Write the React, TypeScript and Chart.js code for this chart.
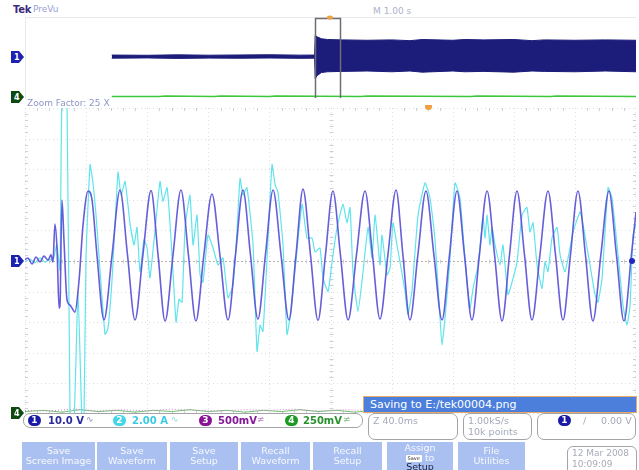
import React, { useEffect, useRef } from 'react';
import { Chart, registerables } from 'chart.js';

Chart.register(...registerables);

// ---------- Zoom window (Z 40.0 ms/div) ----------
const gridTimesMs = [0, 40, 80, 120, 160, 200, 240, 280, 320, 360, 400];
const gridDivs = [-50, -40, -30, -20, -10, 0, 10, 20, 30, 40, 50];

// Channel 1 (10.0 V/div): [time ms, volts]
const ch1Samples: [number, number][] = [
  [0, 0.5], [2.0, 1.0], [4.6, -1.0], [7.2, 1.3], [9.8, -0.3], [12.4, 1.6], [15.1, 0.3], [17.0, 2.0], [18.3, -0.3],
  [19.6, 12.1], [21.0, 3.6], [22.3, -15.4], [22.9, -14.4], [24.2, 19.9], [25.5, 6.9], [27.5, -12.7], [29.5, -14.4],
  [32.7, -16.7], [35.4, -6.2], [38.0, 11.8], [41.3, 22.9], [43.9, 19.9], [47.1, 2.0], [51.7, -19.3],
  [57.0, 2], [62.2, 23.2], [67.1, 2], [72.0, -19.3],
  [77.2, 2], [82.5, 23.0], [87.1, 2], [91.7, -19.6],
  [96.9, 2], [102.1, 23.2], [107.0, 2], [111.9, -19.6],
  [117.1, 2], [122.4, 21.9], [127.6, 2], [132.9, -19.3],
  [137.8, 2], [142.7, 23.2], [147.6, 2], [152.5, -19.0],
  [157.4, 2], [162.4, 23.2], [167.6, 2], [172.8, -19.3],
  [177.4, 2], [182.0, 23.5], [186.9, 2], [191.8, -19.4],
  [196.7, 2], [201.6, 22.9], [206.5, 2], [211.5, -19.3],
  [217.0, 2], [222.6, 22.9], [227.5, 2], [232.4, -19.0],
  [237.6, 2], [242.9, 23.2], [247.4, 2], [252.0, -19.3],
  [257.2, 2], [262.5, 22.9], [267.7, 2], [273.0, -19.3],
  [277.9, 2], [282.8, 22.9], [287.7, 2], [292.6, -19.3],
  [297.5, 2], [302.5, 22.9], [307.4, 2], [312.3, -19.6],
  [317.2, 2], [322.1, 22.9], [327.0, 2], [331.9, -19.3],
  [337.1, 2], [342.4, 22.9], [347.3, 2], [352.2, -19.3],
  [357.1, 2], [362.0, 22.9], [366.9, 2], [371.8, -19.6],
  [377.0, 2], [382.3, 22.9], [387.2, 2], [392.1, -19.6],
  [397.0, 2], [400, 16],
];

// Channel 2 (2.00 A/div): [time ms, amps]
const ch2Samples: [number, number][] = [
  [0, -0.07], [3.3, 0.13], [6.5, -0.13], [9.8, 0.2], [13.1, -0.07], [16.4, 0.13], [18.3, 0], [20.8, 1.05], [22.9, -0.6],
  [24.2, 10.5], [27.5, 10.5], [29.5, -10.5], [32.1, -10.5], [34.7, -2.0], [37.3, -10.5], [38.6, -10.5], [39.9, 0.07],
  [42.6, 6.3], [44.5, 5.1], [46.5, 3.0], [49.1, -0.6], [52.4, -4.8], [54.3, -4.4], [57.0, -1.2], [60.9, 5.8], [62.9, 4.3],
  [65.5, 5.2], [68.7, 2.5], [71.4, 1.05], [73.3, 2.2], [75.3, -0.7], [77.9, 1.4], [79.9, 0.85], [81.8, -1.1], [85.1, 2.0],
  [88.4, 5.2], [90.3, 3.9], [93.0, 4.8], [94.9, 2.5], [96.9, -0.7], [98.9, -4.0], [100.8, -2.5], [102.8, -2.7], [104.8, 2.2],
  [108.0, 4.3], [110.0, 1.05], [112.6, 3.0], [114.6, -0.9], [116.5, -1.4], [119.8, 1.7], [123.1, 0.85], [126.4, -0.26],
  [129.6, 0.2], [132.9, -2.4], [136.2, -1.6], [138.8, 2.0], [140.8, 5.4], [142.7, 4.3], [145.3, 4.8], [149.3, 1.05],
  [151.9, -5.9], [153.9, -4.2], [155.8, -4.6], [158.4, 0.07], [161.7, 6.3], [163.7, 5.0], [165.6, 4.5], [168.9, 1.05],
  [171.5, -4.8], [173.5, -3.7], [176.8, -0.6], [181.4, 3.7], [184.6, 1.5], [187.9, 1.5], [189.9, 0.6], [193.1, 0.85],
  [195.1, -1.1], [198.4, -2.0], [201.0, -0.07], [204.3, 2.2], [208.2, 3.7], [210.8, 2.5], [212.8, 3.5], [214.7, -0.7],
  [218.0, -3.3], [221.3, -0.7], [224.6, 2.2], [227.2, 0.2], [229.2, 3.0], [232.4, -0.26], [233.7, 1.7], [237.0, -0.9],
  [239.0, -0.46], [240.9, 2.5], [243.5, 1.05], [246.2, -0.46], [248.8, -2.0], [250.7, -3.5], [253.4, -1.9], [257.3, 3.0],
  [261.9, 5.1], [265.2, 4.1], [268.4, 1.4], [271.7, -3.7], [273.0, -5.5], [275.0, -3.7], [278.2, 0.07], [281.5, 5.1],
  [284.8, 4.1], [288.1, 0.07], [291.3, -3.1], [293.3, -1.8], [296.6, -0.26], [299.9, 2.8], [301.2, 1.5], [302.5, 3.0],
  [304.4, 1.05], [305.7, 2.2], [307.7, 1.05], [311.0, -0.26], [312.9, 1.05], [316.2, -2.2], [318.8, -1.4], [322.1, -0.07],
  [325.4, 3.0], [328.6, 3.5], [330.6, 1.9], [332.6, 2.5], [335.2, -0.26], [338.5, -1.8], [340.4, -0.07], [342.4, -0.7],
  [345.0, 1.5], [348.3, 2.2], [350.3, 0.4], [353.5, -0.7], [356.8, 0.85], [358.8, 1.9], [363.4, 3.2], [365.3, 2.4],
  [369.9, -0.26], [373.2, -2.2], [375.1, -2.7], [377.8, -1.1], [381.7, 4.8], [384.3, 4.1], [387.6, 1.05], [391.5, -2.9],
  [394.1, -4.2], [396.1, -2.9], [398.1, 1.7], [400, 2.4],
];

// Channel 3 (500 mV/div) and channel 4 (250 mV/div) near their bottom offsets
const ch3Samples: [number, number][] = [
  [0, 0.06], [16, 0.05], [32, 0.08], [48, 0.05], [64, 0.07], [80, 0.05], [96, 0.08], [112, 0.06], [128, 0.05],
  [144, 0.07], [160, 0.06], [176, 0.08], [192, 0.05], [208, 0.07], [224, 0.06], [240, 0.08], [256, 0.05], [272, 0.07],
  [288, 0.06], [304, 0.05], [320, 0.08], [336, 0.06], [352, 0.07], [368, 0.05], [384, 0.07], [400, 0.06],
];
const ch4Samples: [number, number][] = [
  [0, 0.02], [12, 0.03], [24, 0.015], [36, 0.035], [48, 0.02], [60, 0.03], [72, 0.015], [84, 0.03], [96, 0.02],
  [108, 0.035], [120, 0.02], [132, 0.03], [144, 0.015], [156, 0.03], [168, 0.02], [180, 0.035], [192, 0.02],
  [204, 0.03], [216, 0.015], [228, 0.03], [240, 0.02], [252, 0.035], [264, 0.02], [276, 0.03], [288, 0.015],
  [300, 0.03], [312, 0.02], [324, 0.035], [336, 0.02], [348, 0.03], [360, 0.015], [372, 0.03], [384, 0.02], [400, 0.03],
];

// ---------- Full record overview (M 1.00 s/div) ----------
const ovTimeS = [1.42, 2.0, 2.5, 3.0, 3.5, 4.0, 4.5, 4.74, 4.75, 4.78, 4.85, 4.95, 5.2, 5.6, 6.0, 6.3, 6.5, 7.0, 7.2, 7.5, 8.0, 8.3, 8.5, 9.0, 9.5, 10.0];
const ovMaxV = [2.5, 2.2, 2.8, 2.3, 2.6, 2.9, 2.4, 2.5, 28, 26, 23.5, 22.5, 22, 21.5, 22, 21, 22.5, 21.5, 22.5, 22, 22.5, 21, 22, 21.5, 22, 21.5];
const ovMinV = [-1.5, -1.2, -1.8, -1.4, -1.6, -1.3, -1.7, -1.5, -28, -24, -20, -19, -18.5, -18, -19, -18, -19.5, -18, -19, -18.5, -19.5, -18, -18.5, -19, -18, -19];
const ovCh4TimeS = [1.42, 2.2, 2.3, 3.1, 3.2, 4.0, 4.1, 5.5, 5.6, 7.3, 7.4, 8.6, 8.7, 10.0];
const ovCh4V = [-50.8, -50.8, -50.2, -50.8, -50.3, -50.8, -50.3, -50.8, -50.3, -50.8, -50.2, -50.8, -50.3, -50.8];
const zoomWindowS = [4.75, 5.15];
const triggerS = 4.99;

const toXY = (s: [number, number][]) => s.map(([x, y]) => ({ x, y }));

const graticule = {
  id: 'graticule',
  beforeDatasetsDraw(chart: any) {
    const { ctx, chartArea: a, scales } = chart;
    const xs = scales.x, ys = scales.y;
    const cx = (v: number) => Math.min(Math.max(Math.round(xs.getPixelForValue(v)) + 0.5, a.left + 0.5), a.right - 0.5);
    const cy = (v: number) => Math.min(Math.max(Math.round(ys.getPixelForValue(v)) + 0.5, a.top + 0.5), a.bottom - 0.5);
    ctx.save();
    ctx.lineWidth = 1;
    ctx.strokeStyle = '#dcdee4';
    ctx.setLineDash([1, 3]);
    gridTimesMs.forEach((t) => { const p = cx(t); ctx.beginPath(); ctx.moveTo(p, a.top); ctx.lineTo(p, a.bottom); ctx.stroke(); });
    gridDivs.forEach((v) => { const p = cy(v); ctx.beginPath(); ctx.moveTo(a.left, p); ctx.lineTo(a.right, p); ctx.stroke(); });
    ctx.strokeStyle = '#bcae9e';
    ctx.setLineDash([2, 2]);
    const c0 = cy(0);
    ctx.beginPath(); ctx.moveTo(a.left, c0); ctx.lineTo(a.right, c0); ctx.stroke();
    ctx.setLineDash([]);
    ctx.strokeStyle = '#cdd0d8';
    const xc = cx(200);
    for (let i = 0; i < gridTimesMs.length - 1; i++) {
      for (let k = 1; k < 5; k++) {
        const t = gridTimesMs[i] + (gridTimesMs[i + 1] - gridTimesMs[i]) * k / 5;
        const p = cx(t);
        [[c0 - 2, c0 + 2], [a.top, a.top + 3], [a.bottom - 3, a.bottom]].forEach(([y0, y1]) => {
          ctx.beginPath(); ctx.moveTo(p, y0); ctx.lineTo(p, y1); ctx.stroke();
        });
      }
    }
    for (let i = 0; i < gridDivs.length - 1; i++) {
      for (let k = 1; k < 5; k++) {
        const v = gridDivs[i] + (gridDivs[i + 1] - gridDivs[i]) * k / 5;
        const p = cy(v);
        [[xc - 2, xc + 2], [a.left, a.left + 3], [a.right - 3, a.right]].forEach(([x0, x1]) => {
          ctx.beginPath(); ctx.moveTo(x0, p); ctx.lineTo(x1, p); ctx.stroke();
        });
      }
    }
    ctx.restore();
  },
};

const zoomBox = {
  id: 'zoomBox',
  beforeDatasetsDraw(chart: any) {
    const { ctx, chartArea: a } = chart;
    ctx.save();
    ctx.strokeStyle = '#e6e8ee';
    ctx.lineWidth = 1;
    ctx.beginPath(); ctx.moveTo(a.left + 0.5, a.top + 2); ctx.lineTo(a.left + 0.5, a.bottom); ctx.stroke();
    ctx.beginPath(); ctx.moveTo(a.left, a.top + 2.5); ctx.lineTo(a.right, a.top + 2.5); ctx.stroke();
    ctx.restore();
  },
  afterDatasetsDraw(chart: any) {
    const { ctx, chartArea: a, scales } = chart;
    const x0 = Math.round(scales.x.getPixelForValue(zoomWindowS[0])) + 0.5;
    const x1 = Math.round(scales.x.getPixelForValue(zoomWindowS[1])) + 0.5;
    const xt = scales.x.getPixelForValue(triggerS);
    ctx.save();
    ctx.strokeStyle = '#6e6e74';
    ctx.lineWidth = 1.5;
    ctx.beginPath();
    ctx.moveTo(x0, a.bottom - 1); ctx.lineTo(x0, a.top + 3.5); ctx.lineTo(x1, a.top + 3.5); ctx.lineTo(x1, a.bottom - 1);
    ctx.stroke();
    ctx.fillStyle = '#f0a040';
    ctx.beginPath(); ctx.ellipse(xt, a.top + 2.5, 3, 2, 0, 0, Math.PI * 2); ctx.fill();
    ctx.restore();
  },
};

const Txt = ({ x, y, children, style }: any) => (
  <div style={{ position: 'absolute', left: x, top: y, whiteSpace: 'nowrap', lineHeight: 1, ...style }}>{children}</div>
);

const Dot = ({ x, y, bg, label }: any) => (
  <div style={{ position: 'absolute', left: x, top: y, width: 13, height: 11, borderRadius: 6, background: bg, color: '#fff',
    fontSize: 9, fontWeight: 700, textAlign: 'center', lineHeight: '11px' }}>{label}</div>
);

const Marker = ({ x, y, fill, label, w = 13, h = 12 }: any) => (
  <svg style={{ position: 'absolute', left: x, top: y }} width={w} height={h}>
    <path d={`M0 0 H${w - 5} L${w} ${h / 2} L${w - 5} ${h} H0 Z`} fill={fill} />
    <text x={3} y={h - 3} fontSize={8} fill="#ffffff" fontFamily="DejaVu Sans" fontWeight={700}>{label}</text>
  </svg>
);

const Btn = ({ x, w, lines, children }: any) => (
  <div style={{ position: 'absolute', left: x, top: 442, width: w, height: 32, background: '#aac0f0', color: '#f6f8ff',
    fontSize: 9.5, textAlign: 'center', lineHeight: '10px', paddingTop: 4, boxSizing: 'border-box' }}>
    {children || lines.map((l: string, i: number) => <div key={i}>{l}</div>)}
  </div>
);

export default function App() {
  const ovRef = useRef<HTMLCanvasElement>(null);
  const mainRef = useRef<HTMLCanvasElement>(null);

  useEffect(() => {
    const ov = new Chart(ovRef.current!, {
      type: 'line',
      data: {
        datasets: [
          { data: ovTimeS.map((t, i) => ({ x: t, y: ovMaxV[i] })), borderColor: '#1c1c7a', backgroundColor: '#1c1c7a',
            borderWidth: 1, pointRadius: 0, fill: '+1', tension: 0 },
          { data: ovTimeS.map((t, i) => ({ x: t, y: ovMinV[i] })), borderColor: '#1c1c7a', borderWidth: 1, pointRadius: 0,
            fill: false, tension: 0 },
          { data: ovCh4TimeS.map((t, i) => ({ x: t, y: ovCh4V[i] })), borderColor: '#3cc83c', borderWidth: 1.5,
            pointRadius: 0, fill: false, tension: 0 },
        ],
      },
      options: {
        animation: false, responsive: false, maintainAspectRatio: false,
        layout: { padding: 0 },
        plugins: { legend: { display: false }, tooltip: { enabled: false } },
        scales: {
          x: { type: 'linear', min: 0, max: 10, display: false },
          y: { min: -54, max: 54, display: false },
        },
      },
      plugins: [zoomBox],
    });

    const main = new Chart(mainRef.current!, {
      type: 'line',
      data: {
        datasets: [
          { data: toXY(ch1Samples), yAxisID: 'y', borderColor: 'rgba(88,76,214,0.9)', borderWidth: 1.6, pointRadius: 0,
            cubicInterpolationMode: 'monotone', borderJoinStyle: 'round' },
          { data: toXY(ch2Samples), yAxisID: 'yA', borderColor: 'rgb(96,228,236)', borderWidth: 1.2, pointRadius: 0,
            tension: 0.15 },
          { data: toXY(ch3Samples), yAxisID: 'y3', borderColor: '#d080d0', borderWidth: 1, pointRadius: 0,
            borderDash: [1, 2] },
          { data: toXY(ch4Samples), yAxisID: 'y4', borderColor: '#70c070', borderWidth: 1, pointRadius: 0 },
        ],
      },
      options: {
        animation: false, responsive: false, maintainAspectRatio: false,
        layout: { padding: 0 },
        plugins: { legend: { display: false }, tooltip: { enabled: false } },
        scales: {
          x: { type: 'linear', min: 0, max: 400, display: false },
          y: { min: -50, max: 50, display: false },
          yA: { min: -10, max: 10, display: false },
          y3: { min: 0, max: 5, display: false },
          y4: { min: 0, max: 2.5, display: false },
        },
      },
      plugins: [graticule],
    });
    return () => { ov.destroy(); main.destroy(); };
  }, []);

  return (
    <div style={{ position: 'fixed', left: 0, top: 0, width: 639, height: 470, background: '#ffffff', overflow: 'hidden',
      fontFamily: '"DejaVu Sans", sans-serif' }}>
      <Txt x={13} y={5} style={{ fontSize: 10, fontWeight: 700, color: '#3c2a7c', letterSpacing: -0.3 }}>Tek</Txt>
      <Txt x={33} y={5} style={{ fontSize: 9, color: '#98a0d8' }}>PreVu</Txt>
      <Txt x={373} y={7} style={{ fontSize: 9, color: '#aab2cc' }}>M 1.00 s</Txt>

      <canvas ref={ovRef} width={611} height={84} style={{ position: 'absolute', left: 25, top: 15, width: 611, height: 84 }} />
      <Marker x={11} y={51} fill="#1e22b0" label="1" />
      <Marker x={11} y={91} fill="#0c4a12" label="4" />

      <Txt x={27} y={99} style={{ fontSize: 9, color: '#8c96c8' }}>Zoom Factor: 25 X</Txt>

      <canvas ref={mainRef} width={611} height={306} style={{ position: 'absolute', left: 25, top: 108, width: 611, height: 306 }} />
      <Marker x={11} y={255} fill="#1e22b0" label="1" />
      <Marker x={11} y={407} fill="#0c4a12" label="4" />
      <div style={{ position: 'absolute', left: 425, top: 105, width: 7, height: 5, borderRadius: '0 0 4px 4px', background: '#f0a040' }} />
      <div style={{ position: 'absolute', left: 629, top: 258, width: 6, height: 6, borderRadius: 3, background: '#2026c0' }} />

      <div style={{ position: 'absolute', left: 363, top: 396, width: 266, height: 15, background: '#4c7fdc',
        border: '1px solid #e8a868', color: '#ffffff', fontSize: 11, lineHeight: '15px', paddingLeft: 6, boxSizing: 'content-box' }}>
        Saving to E:/tek00004.png
      </div>

      <div style={{ position: 'absolute', left: 23, top: 413, width: 338, height: 13, border: '1.5px solid #a4a4a8', borderRadius: 7 }} />
      <Dot x={28} y={415} bg="#1a1aa8" label="1" />
      <Txt x={48} y={416} style={{ fontSize: 10, fontWeight: 700, color: '#2a2a9c' }}>10.0 V</Txt>
      <Txt x={86} y={415} style={{ fontSize: 9, color: '#8a8ac4' }}>∿</Txt>
      <Dot x={113} y={415} bg="#44d6e6" label="2" />
      <Txt x={132} y={416} style={{ fontSize: 10, fontWeight: 700, color: '#3ccae0' }}>2.00 A</Txt>
      <Txt x={171} y={415} style={{ fontSize: 9, color: '#8ad8e4' }}>∿</Txt>
      <Dot x={199} y={415} bg="#8a1296" label="3" />
      <Txt x={218} y={416} style={{ fontSize: 10, fontWeight: 700, color: '#86189a' }}>500mV</Txt>
      <Txt x={257} y={415} style={{ fontSize: 9, color: '#c080c8' }}>≠</Txt>
      <Dot x={285} y={415} bg="#1c9a24" label="4" />
      <Txt x={303} y={416} style={{ fontSize: 10, fontWeight: 700, color: '#2a922e' }}>250mV</Txt>
      <Txt x={343} y={415} style={{ fontSize: 9, color: '#80c080' }}>≠</Txt>

      <div style={{ position: 'absolute', left: 368, top: 413, width: 88, height: 25, border: '1.5px solid #a4a4a8', borderRadius: 7 }} />
      <Txt x={373} y={416} style={{ fontSize: 9.5, color: '#a4aaba' }}>Z 40.0ms</Txt>
      <div style={{ position: 'absolute', left: 463, top: 413, width: 67, height: 25, border: '1.5px solid #a4a4a8', borderRadius: 7 }} />
      <Txt x={468} y={416} style={{ fontSize: 9.5, color: '#a4aaba' }}>1.00kS/s</Txt>
      <Txt x={468} y={427} style={{ fontSize: 9.5, color: '#a4aaba' }}>10k points</Txt>
      <div style={{ position: 'absolute', left: 537, top: 413, width: 97, height: 25, border: '1.5px solid #a4a4a8', borderRadius: 7 }} />
      <Dot x={558} y={415} bg="#1a1aa8" label="1" />
      <Txt x={583} y={416} style={{ fontSize: 9.5, color: '#a4aaba' }}>/</Txt>
      <Txt x={601} y={416} style={{ fontSize: 9.5, color: '#a4aaba' }}>0.00 V</Txt>

      <Btn x={22} w={73} lines={['Save', 'Screen Image']} />
      <Btn x={97} w={70} lines={['Save', 'Waveform']} />
      <Btn x={170} w={68} lines={['Save', 'Setup']} />
      <Btn x={241} w={69} lines={['Recall', 'Waveform']} />
      <Btn x={313} w={69} lines={['Recall', 'Setup']} />
      <Btn x={387} w={66}>
        <div style={{ marginTop: -3 }}>Assign</div>
        <div style={{ lineHeight: '9px' }}>
          <span style={{ display: 'inline-block', background: '#ffffff', color: '#333', fontSize: 5, padding: '0 2px',
            lineHeight: '7px', borderRadius: 1, verticalAlign: 'middle' }}>Save</span> to
        </div>
        <div style={{ color: '#1a2040' }}>Setup</div>
      </Btn>
      <Btn x={458} w={67} lines={['File', 'Utilities']} />

      <div style={{ position: 'absolute', left: 567, top: 446, width: 68, height: 30, border: '1.5px solid #a4a4a8', borderRadius: 6 }} />
      <Txt x={572} y={449} style={{ fontSize: 9, color: '#a8aab8' }}>12 Mar 2008</Txt>
      <Txt x={572} y={460} style={{ fontSize: 9, color: '#a8aab8' }}>10:09:09</Txt>
    </div>
  );
}
